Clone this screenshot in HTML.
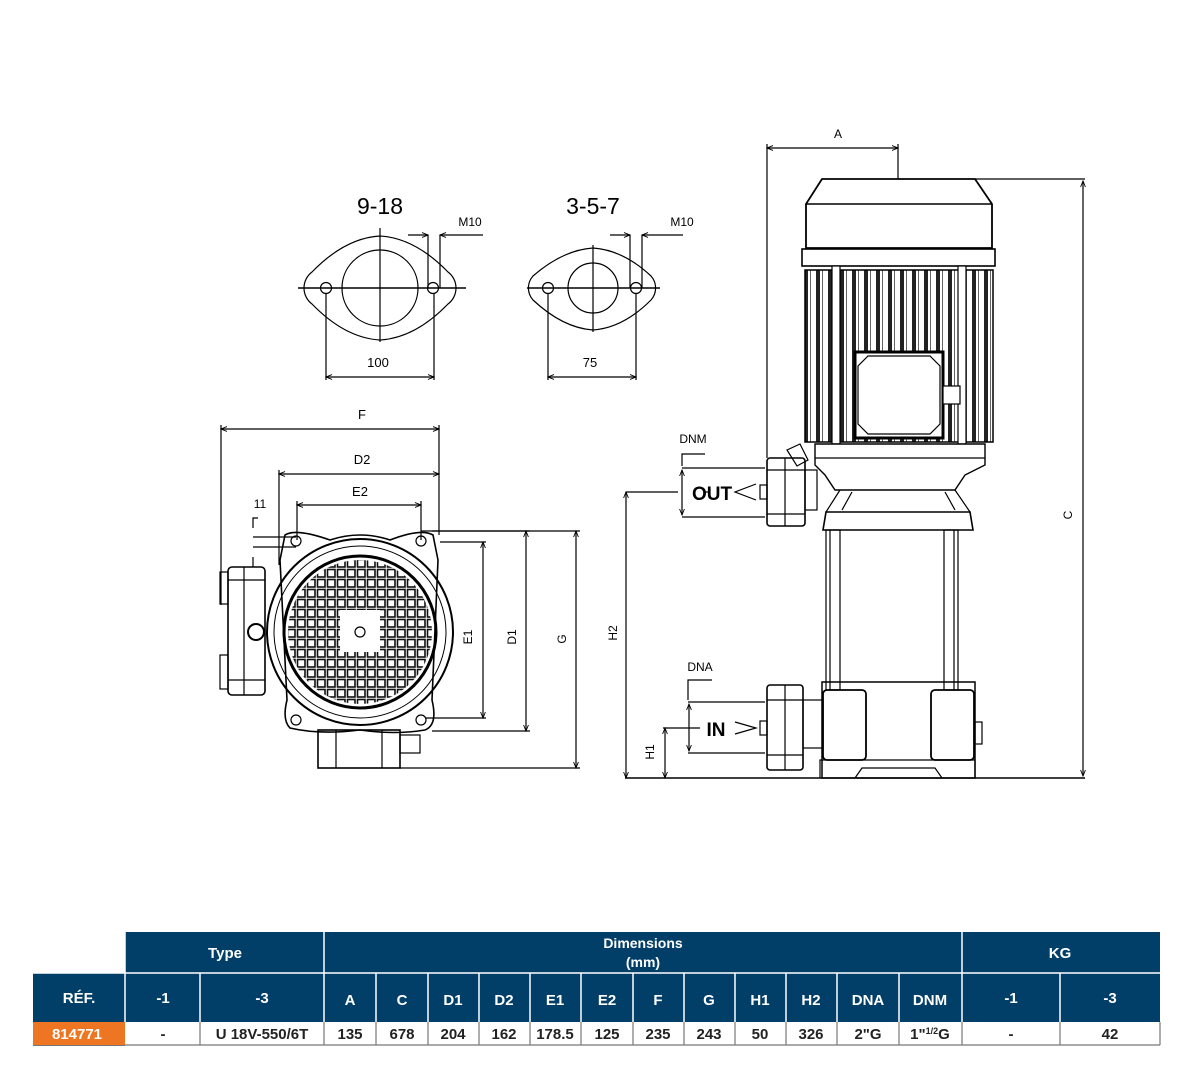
<!DOCTYPE html>
<html><head><meta charset="utf-8"><style>
html,body{margin:0;padding:0;background:#fff;}
body{width:1192px;height:1085px;position:relative;overflow:hidden;font-family:"Liberation Sans",sans-serif;}
svg{position:absolute;left:0;top:0;}
</style></head><body>
<svg width="1192" height="1085" viewBox="0 0 1192 1085" xmlns="http://www.w3.org/2000/svg">
<defs>
<marker id="ar" viewBox="0 0 10 10" refX="10" refY="5" markerWidth="7" markerHeight="5" orient="auto-start-reverse"><path d="M0,1 L10,5 L0,9" fill="none" stroke="#000" stroke-width="1.5"/></marker>
<pattern id="grid" x="286" y="558" width="10" height="10" patternUnits="userSpaceOnUse"><rect x="1.5" y="1.5" width="7.5" height="7.5" fill="#fff" stroke="#111" stroke-width="1.6"/></pattern>
<clipPath id="cc"><circle cx="360" cy="632" r="72"/></clipPath>
<pattern id="fins" x="0" y="0" width="12" height="10" patternUnits="userSpaceOnUse"><rect width="12" height="10" fill="#fff"/><rect x="0" width="4" height="10" fill="#222"/><rect x="6" width="1" height="10" fill="#666"/></pattern>
</defs>
<g fill="none" stroke="#000" stroke-width="1.2" font-family="Liberation Sans, sans-serif">
<!-- flange 9-18 -->
<text x="380" y="214" font-size="23" text-anchor="middle" fill="#000" stroke="none">9-18</text>
<path d="M312,272 Q345,238 380,236 Q415,238 448,272 A20 20 0 0 1 448,304 Q415,338 380,340 Q345,338 312,304 A20 20 0 0 1 312,272 Z"/>
<circle cx="380" cy="288" r="38"/>
<circle cx="326" cy="288" r="5.5"/><circle cx="433" cy="288" r="5.5"/>
<line x1="298" y1="288" x2="466" y2="288" stroke-width="1.6"/>
<line x1="380" y1="228" x2="380" y2="342"/>
<line x1="428" y1="235" x2="428" y2="288"/><line x1="440" y1="235" x2="440" y2="288"/>
<line x1="408" y1="235" x2="428" y2="235" marker-end="url(#ar)"/><line x1="483" y1="235" x2="440" y2="235" marker-end="url(#ar)"/>
<text x="470" y="226" font-size="12" text-anchor="middle" fill="#000" stroke="none">M10</text>
<line x1="326" y1="294" x2="326" y2="380"/><line x1="434" y1="294" x2="434" y2="380"/>
<line x1="326" y1="377" x2="434" y2="377" marker-start="url(#ar)" marker-end="url(#ar)"/>
<text x="378" y="367" font-size="13" text-anchor="middle" fill="#000" stroke="none">100</text>
<!-- flange 3-5-7 -->
<text x="593" y="214" font-size="23" text-anchor="middle" fill="#000" stroke="none">3-5-7</text>
<path d="M533,276 Q563,250 593,248 Q623,250 651,276 A18 18 0 0 1 651,300 Q623,328 593,330 Q563,328 533,300 A18 18 0 0 1 533,276 Z"/>
<circle cx="593" cy="288" r="25"/>
<circle cx="548" cy="288" r="5.5"/><circle cx="636" cy="288" r="5.5"/>
<line x1="527" y1="288" x2="660" y2="288" stroke-width="1.6"/>
<line x1="593" y1="245" x2="593" y2="332"/>
<line x1="630" y1="235" x2="630" y2="288"/><line x1="642" y1="235" x2="642" y2="288"/>
<line x1="610" y1="235" x2="630" y2="235" marker-end="url(#ar)"/><line x1="683" y1="235" x2="642" y2="235" marker-end="url(#ar)"/>
<text x="682" y="226" font-size="12" text-anchor="middle" fill="#000" stroke="none">M10</text>
<line x1="548" y1="294" x2="548" y2="380"/><line x1="636" y1="294" x2="636" y2="380"/>
<line x1="548" y1="377" x2="636" y2="377" marker-start="url(#ar)" marker-end="url(#ar)"/>
<text x="590" y="367" font-size="13" text-anchor="middle" fill="#000" stroke="none">75</text>

<!-- front view dims -->
<text x="362" y="419" font-size="13" text-anchor="middle" fill="#000" stroke="none">F</text>
<line x1="221" y1="429" x2="439" y2="429" marker-start="url(#ar)" marker-end="url(#ar)"/>
<line x1="221" y1="425" x2="221" y2="605"/><line x1="439" y1="425" x2="439" y2="535"/>
<text x="362" y="464" font-size="13" text-anchor="middle" fill="#000" stroke="none">D2</text>
<line x1="279" y1="474" x2="439" y2="474" marker-start="url(#ar)" marker-end="url(#ar)"/>
<line x1="279" y1="470" x2="279" y2="565"/>
<text x="360" y="496" font-size="13" text-anchor="middle" fill="#000" stroke="none">E2</text>
<line x1="297" y1="505" x2="421" y2="505" marker-start="url(#ar)" marker-end="url(#ar)"/>
<line x1="297" y1="501" x2="297" y2="540"/><line x1="421" y1="501" x2="421" y2="540"/>
<text x="260" y="508" font-size="12" text-anchor="middle" fill="#000" stroke="none">11</text>
<path d="M253,528 L253,518 L258,518"/><line x1="253" y1="537" x2="296" y2="537"/><line x1="253" y1="547" x2="296" y2="547"/><line x1="253" y1="557" x2="253" y2="567"/>
<!-- flange body -->
<path d="M285,535 Q296,528 330,540 Q360,530 390,540 Q421,528 433,535 L438,560 L432,700 Q438,725 425,730 Q395,735 360,730 Q320,735 290,728 Q282,720 287,700 L280,560 Z" stroke-width="1.6"/>
<circle cx="296" cy="541" r="5"/><circle cx="421" cy="541" r="5"/><circle cx="296" cy="720" r="5"/><circle cx="421" cy="720" r="5"/>
<circle cx="360" cy="632" r="93" stroke-width="2"/>
<circle cx="360" cy="632" r="86" stroke-width="1"/>
<circle cx="360" cy="632" r="76" stroke-width="3"/>
<rect x="280" y="552" width="160" height="160" fill="url(#grid)" stroke="none" clip-path="url(#cc)"/>
<rect x="340" y="610" width="40" height="42" fill="#fff" stroke="none"/>
<circle cx="360" cy="632" r="5"/>
<!-- side box -->
<rect x="228" y="567" width="37" height="128" rx="4" stroke-width="1.6"/>
<rect x="220" y="572" width="8" height="32"/><rect x="220" y="655" width="8" height="34"/>
<line x1="244" y1="567" x2="244" y2="695"/><line x1="228" y1="580" x2="265" y2="580"/><line x1="228" y1="680" x2="265" y2="680"/>
<circle cx="256" cy="632" r="8" stroke-width="2"/>
<!-- bottom box -->
<rect x="318" y="730" width="82" height="38" stroke-width="1.6"/>
<line x1="336" y1="730" x2="336" y2="768"/><line x1="382" y1="730" x2="382" y2="768"/>
<rect x="400" y="735" width="20" height="18"/>
<!-- right dims -->
<line x1="425" y1="718" x2="486" y2="718"/><line x1="440" y1="542" x2="486" y2="542"/>
<line x1="483" y1="542" x2="483" y2="718" marker-start="url(#ar)" marker-end="url(#ar)"/>
<text x="472" y="637" font-size="12" text-anchor="middle" fill="#000" stroke="none" transform="rotate(-90 472 637)">E1</text>
<line x1="421" y1="531" x2="530" y2="531"/><line x1="432" y1="731" x2="530" y2="731"/>
<line x1="526" y1="531" x2="526" y2="731" marker-start="url(#ar)" marker-end="url(#ar)"/>
<text x="516" y="637" font-size="12" text-anchor="middle" fill="#000" stroke="none" transform="rotate(-90 516 637)">D1</text>
<line x1="432" y1="531" x2="580" y2="531"/><line x1="400" y1="768" x2="580" y2="768"/>
<line x1="576" y1="531" x2="576" y2="768" marker-start="url(#ar)" marker-end="url(#ar)"/>
<text x="566" y="639" font-size="12" text-anchor="middle" fill="#000" stroke="none" transform="rotate(-90 566 639)">G</text>

<!-- side view -->
<text x="838" y="138" font-size="12" text-anchor="middle" fill="#000" stroke="none">A</text>
<line x1="767" y1="148" x2="898" y2="148" marker-start="url(#ar)" marker-end="url(#ar)"/>
<line x1="767" y1="144" x2="767" y2="458"/><line x1="898" y1="144" x2="898" y2="179"/>
<path d="M822,179 L975,179 L992,204 L992,248 L806,248 L806,204 Z" stroke-width="1.8"/>
<line x1="806" y1="204" x2="992" y2="204" stroke-width="1.4"/>
<rect x="802" y="249" width="193" height="17" stroke-width="1.6"/>
<rect x="805" y="270" width="188" height="172" fill="url(#fins)" stroke-width="1.5"/>
<rect x="832" y="266" width="8" height="178" fill="#fff"/><rect x="958" y="266" width="8" height="178" fill="#fff"/>
<rect x="855" y="352" width="88" height="86" fill="#fff" stroke-width="3"/>
<path d="M868,356 L930,356 L940,366 L940,424 L930,434 L868,434 L858,424 L858,366 Z"/>
<rect x="943" y="386" width="17" height="18" fill="#fff"/>
<!-- lower bracket -->
<path d="M815,444 L985,444 L985,465 L965,475 L955,490 L835,490 L825,475 L815,465 Z" fill="#fff" stroke-width="1.4"/>
<line x1="815" y1="458" x2="985" y2="458"/>
<path d="M826,512 L970,512 L973,530 L823,530 Z" fill="#fff" stroke-width="1.6"/>
<path d="M840,490 L826,512 M955,490 L970,512 M852,492 L842,510 M945,492 L955,510"/>
<rect x="826" y="530" width="14" height="160"/><rect x="944" y="530" width="14" height="160"/>
<line x1="830" y1="530" x2="830" y2="690"/><line x1="954" y1="530" x2="954" y2="690"/>
<!-- base -->
<rect x="822" y="682" width="153" height="96" stroke-width="1.5"/>
<rect x="823" y="690" width="43" height="70" rx="4" stroke-width="1.8"/>
<rect x="931" y="690" width="43" height="70" rx="4" stroke-width="1.8"/>
<path d="M820,778 L820,760 L975,760 L975,778 M855,778 L862,768 L935,768 L942,778" />
<rect x="975" y="722" width="7" height="22"/>
<!-- outlet -->
<rect x="767" y="458" width="38" height="68" rx="3" fill="#fff" stroke-width="1.6"/>
<line x1="785" y1="458" x2="785" y2="526"/><line x1="767" y1="470" x2="805" y2="470"/><line x1="767" y1="514" x2="805" y2="514"/>
<rect x="805" y="470" width="12" height="40"/>
<rect x="760" y="485" width="7" height="14"/>
<path d="M787,450 L800,444 L808,460 L797,466 Z"/>
<text x="693" y="443" font-size="12" text-anchor="middle" fill="#000" stroke="none">DNM</text>
<path d="M682,466 L682,454 L705,454"/>
<line x1="682" y1="468" x2="765" y2="468"/><line x1="682" y1="517" x2="765" y2="517"/>
<line x1="682" y1="470" x2="682" y2="515" marker-start="url(#ar)" marker-end="url(#ar)"/>
<text x="712" y="500" font-size="19" font-weight="bold" text-anchor="middle" fill="#000" stroke="none">OUT</text>
<path d="M756,484 L735,492 L756,500"/>
<!-- inlet -->
<rect x="767" y="685" width="36" height="85" rx="3" fill="#fff" stroke-width="1.6"/>
<line x1="785" y1="685" x2="785" y2="770"/><line x1="767" y1="700" x2="803" y2="700"/><line x1="767" y1="755" x2="803" y2="755"/>
<rect x="803" y="700" width="20" height="48"/>
<rect x="760" y="721" width="7" height="14"/>
<text x="700" y="671" font-size="12" text-anchor="middle" fill="#000" stroke="none">DNA</text>
<path d="M688,700 L688,680 L712,680"/>
<line x1="688" y1="702" x2="765" y2="702"/><line x1="688" y1="753" x2="765" y2="753"/>
<line x1="689" y1="704" x2="689" y2="751" marker-start="url(#ar)" marker-end="url(#ar)"/>
<text x="716" y="736" font-size="19" font-weight="bold" text-anchor="middle" fill="#000" stroke="none">IN</text>
<path d="M735,722 L756,728 L735,734"/>
<!-- H1 H2 C -->
<line x1="626" y1="492" x2="678" y2="492"/><line x1="704" y1="492" x2="710" y2="492"/>
<line x1="626" y1="492" x2="626" y2="778" marker-start="url(#ar)" marker-end="url(#ar)"/>
<text x="617" y="633" font-size="12" text-anchor="middle" fill="#000" stroke="none" transform="rotate(-90 617 633)">H2</text>
<line x1="663" y1="728" x2="700" y2="728"/>
<line x1="665" y1="728" x2="665" y2="778" marker-start="url(#ar)" marker-end="url(#ar)"/>
<text x="654" y="752" font-size="12" text-anchor="middle" fill="#000" stroke="none" transform="rotate(-90 654 752)">H1</text>
<line x1="625" y1="778" x2="1085" y2="778" stroke-width="1.5"/>
<line x1="975" y1="179" x2="1085" y2="179"/>
<line x1="1083" y1="181" x2="1083" y2="776" marker-start="url(#ar)" marker-end="url(#ar)"/>
<text x="1072" y="515" font-size="12" text-anchor="middle" fill="#000" stroke="none" transform="rotate(-90 1072 515)">C</text>
</g>

<!-- table -->
<g font-family="Liberation Sans, sans-serif" font-weight="bold" font-size="15" text-anchor="middle">
<rect x="125" y="932" width="1035" height="90" fill="#023f68"/>
<rect x="33" y="973" width="92" height="49" fill="#023f68"/>
<rect x="33" y="1022" width="92" height="23" fill="#ee7623"/>
<g stroke="#fff" stroke-width="1.5">
<line x1="125" y1="932" x2="125" y2="1022"/><line x1="324" y1="932" x2="324" y2="1022"/><line x1="962" y1="932" x2="962" y2="1022"/>
<line x1="33" y1="973" x2="1160" y2="973"/>
<line x1="200" y1="973" x2="200" y2="1022"/><line x1="376" y1="973" x2="376" y2="1022"/><line x1="428" y1="973" x2="428" y2="1022"/><line x1="479" y1="973" x2="479" y2="1022"/><line x1="530" y1="973" x2="530" y2="1022"/><line x1="581" y1="973" x2="581" y2="1022"/><line x1="633" y1="973" x2="633" y2="1022"/><line x1="684" y1="973" x2="684" y2="1022"/><line x1="735" y1="973" x2="735" y2="1022"/><line x1="786" y1="973" x2="786" y2="1022"/><line x1="837" y1="973" x2="837" y2="1022"/><line x1="899" y1="973" x2="899" y2="1022"/><line x1="1060" y1="973" x2="1060" y2="1022"/>
</g>
<g stroke="#777" stroke-width="1.2">
<line x1="125" y1="1045" x2="1160" y2="1045"/><line x1="1160" y1="1022" x2="1160" y2="1045"/>
<line x1="200" y1="1022" x2="200" y2="1045"/><line x1="324" y1="1022" x2="324" y2="1045"/><line x1="376" y1="1022" x2="376" y2="1045"/><line x1="428" y1="1022" x2="428" y2="1045"/><line x1="479" y1="1022" x2="479" y2="1045"/><line x1="530" y1="1022" x2="530" y2="1045"/><line x1="581" y1="1022" x2="581" y2="1045"/><line x1="633" y1="1022" x2="633" y2="1045"/><line x1="684" y1="1022" x2="684" y2="1045"/><line x1="735" y1="1022" x2="735" y2="1045"/><line x1="786" y1="1022" x2="786" y2="1045"/><line x1="837" y1="1022" x2="837" y2="1045"/><line x1="899" y1="1022" x2="899" y2="1045"/><line x1="962" y1="1022" x2="962" y2="1045"/><line x1="1060" y1="1022" x2="1060" y2="1045"/>
</g>
<line x1="33" y1="1045.5" x2="125" y2="1045.5" stroke="#777"/>
<g fill="#fff">
<text x="225" y="958">Type</text>
<text x="643" y="948" font-size="14">Dimensions</text>
<text x="643" y="967" font-size="14">(mm)</text>
<text x="1060" y="958">KG</text>
<text x="79" y="1003">RÉF.</text>
<text x="163" y="1003">-1</text><text x="262" y="1003">-3</text>
<text x="350" y="1005">A</text><text x="402" y="1005">C</text><text x="453" y="1005">D1</text><text x="504" y="1005">D2</text><text x="555" y="1005">E1</text><text x="607" y="1005">E2</text><text x="658" y="1005">F</text><text x="709" y="1005">G</text><text x="760" y="1005">H1</text><text x="811" y="1005">H2</text><text x="868" y="1005">DNA</text><text x="930" y="1005">DNM</text>
<text x="1011" y="1003">-1</text><text x="1110" y="1003">-3</text>
<text x="77" y="1039">814771</text>
</g>
<g fill="#222">
<text x="163" y="1039">-</text><text x="262" y="1039">U 18V-550/6T</text>
<text x="350" y="1039">135</text><text x="402" y="1039">678</text><text x="453" y="1039">204</text><text x="504" y="1039">162</text><text x="555" y="1039">178.5</text><text x="607" y="1039">125</text><text x="658" y="1039">235</text><text x="709" y="1039">243</text><text x="760" y="1039">50</text><text x="811" y="1039">326</text><text x="868" y="1039">2"G</text><text x="930" y="1039">1"<tspan font-size="9" dy="-5">1/2</tspan><tspan dy="5">G</tspan></text>
<text x="1011" y="1039">-</text><text x="1110" y="1039">42</text>
</g>
</g>
</svg>
</body></html>
